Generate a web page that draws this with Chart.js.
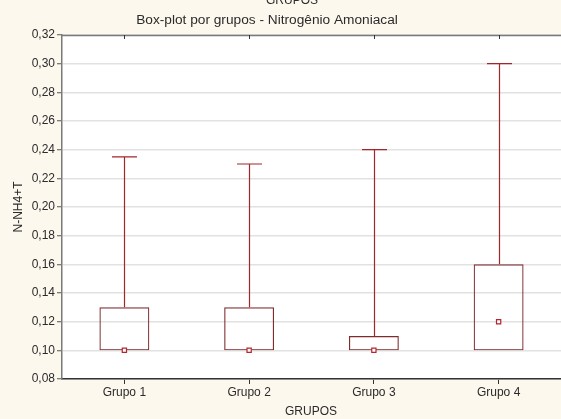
<!DOCTYPE html>
<html>
<head>
<meta charset="utf-8">
<title>Box-plot por grupos - Nitrogênio Amoniacal</title>
<script src="https://cdn.jsdelivr.net/npm/chart.js@4/dist/chart.umd.min.js"></script>
<style>
  html, body { margin: 0; padding: 0; background: #FDF8EE; }
  #wrap { width: 561px; height: 419px; position: relative; }
</style>
</head>
<body>
<div id="wrap"><canvas id="c" width="561" height="419"></canvas></div>
<script>
// Box-plot summary per group (N-NH4+T)
const categories = ['Grupo 1', 'Grupo 2', 'Grupo 3', 'Grupo 4'];
const mins    = [0.10, 0.10, 0.10, 0.10];
const q1      = [0.10, 0.10, 0.10, 0.10];
const q3      = [0.13, 0.13, 0.11, 0.16];
const maxs    = [0.235, 0.23, 0.24, 0.30];
const medians = [0.10, 0.10, 0.10, 0.12];
const yTicks  = [0.08, 0.10, 0.12, 0.14, 0.16, 0.18, 0.20, 0.22, 0.24, 0.26, 0.28, 0.30, 0.32];

const FONT = '"Liberation Sans", Arial, sans-serif';
const BOX_COLOR = '#7E2C2E';
const WHISKER_COLOR = '#A2262B';
const MEDIAN_COLOR = '#B3262C';
const TEXT_COLOR = '#2B2B2B';

// Whiskers, caps, frame and titles drawn over the chart
const boxExtras = {
  id: 'boxExtras',
  beforeDraw(chart) {
    const { ctx, chartArea: a } = chart;
    ctx.save();
    ctx.fillStyle = '#FDF8EE';
    ctx.fillRect(0, 0, chart.width, chart.height);
    ctx.fillStyle = '#FFFFFF';
    ctx.fillRect(a.left, a.top, a.right - a.left, a.bottom - a.top);
    ctx.restore();
  },
  afterDatasetsDraw(chart) {
    const { ctx, scales: { x, y } } = chart;
    const meta = chart.getDatasetMeta(0);
    ctx.save();
    ctx.strokeStyle = WHISKER_COLOR;
    ctx.lineWidth = 1.2;
    categories.forEach((c, i) => {
      const cx = Math.round(x.getPixelForValue(i)) + 0.5;
      const bar = meta.data[i];
      const half = bar.width / 4;
      const yTop = y.getPixelForValue(maxs[i]);
      const yQ3 = y.getPixelForValue(q3[i]);
      const yMin = y.getPixelForValue(mins[i]);
      const yQ1 = y.getPixelForValue(q1[i]);
      ctx.beginPath();
      ctx.moveTo(cx, yQ3); ctx.lineTo(cx, yTop);
      ctx.moveTo(cx - half, yTop); ctx.lineTo(cx + half, yTop);
      if (yMin > yQ1 + 0.5) {
        ctx.moveTo(cx, yQ1); ctx.lineTo(cx, yMin);
        ctx.moveTo(cx - half, yMin); ctx.lineTo(cx + half, yMin);
      }
      ctx.stroke();
    });
    ctx.restore();
  },
  afterDraw(chart) {
    const { ctx, chartArea: a, scales: { x } } = chart;
    ctx.save();
    // top frame with inward ticks
    ctx.strokeStyle = '#7A7A7A';
    ctx.lineWidth = 1.5;
    ctx.beginPath();
    ctx.moveTo(a.left, a.top + 0.5); ctx.lineTo(a.right, a.top + 0.5);
    ctx.stroke();
    ctx.lineWidth = 1;
    ctx.strokeStyle = '#333333';
    categories.forEach((c, i) => {
      const px = Math.round(x.getPixelForValue(i)) + 0.5;
      ctx.beginPath();
      ctx.moveTo(px, a.top); ctx.lineTo(px, a.top + 4);
      ctx.stroke();
    });
    // texts
    ctx.fillStyle = TEXT_COLOR;
    ctx.textAlign = 'center';
    ctx.textBaseline = 'alphabetic';
    ctx.font = '12px ' + FONT;
    ctx.fillText('GRUPOS', 292, 4);
    ctx.font = '13.7px ' + FONT;
    ctx.fillText('Box-plot por grupos - Nitrogênio Amoniacal', 267, 24);
    ctx.font = '12px ' + FONT;
    ctx.fillText('GRUPOS', 311, 415);
    ctx.translate(22, 207);
    ctx.rotate(-Math.PI / 2);
    ctx.fillText('N-NH4+T', 0, 0);
    ctx.restore();
  }
};

new Chart(document.getElementById('c'), {
  type: 'bar',
  data: {
    labels: categories,
    datasets: [
      {
        label: 'Caixa',
        data: q1.map((v, i) => [v, q3[i]]),
        backgroundColor: 'rgba(255,255,255,0)',
        borderColor: BOX_COLOR,
        borderWidth: 1.2,
        borderSkipped: false,
        barPercentage: 0.4,
        categoryPercentage: 1.0,
        order: 2
      },
      {
        type: 'line',
        label: 'Mediana',
        data: medians,
        showLine: false,
        pointStyle: 'rect',
        pointRadius: 3,
        pointBorderWidth: 1.2,
        pointBackgroundColor: '#FFFFFF',
        pointBorderColor: MEDIAN_COLOR,
        order: 1
      }
    ]
  },
  options: {
    responsive: false,
    animation: false,
    devicePixelRatio: 1,
    layout: { autoPadding: false, padding: { top: 35, left: 0, right: 0, bottom: 0 } },
    plugins: {
      legend: { display: false },
      tooltip: { enabled: false },
      title: { display: false }
    },
    scales: {
      x: {
        type: 'category',
        offset: true,
        grid: {
          offset: false,
          drawOnChartArea: false,
          drawTicks: true,
          tickLength: 5,
          color: '#333333'
        },
        border: { display: true, color: '#333333', width: 1.5 },
        ticks: {
          color: TEXT_COLOR,
          font: { family: FONT, size: 12 },
          padding: 1,
          maxRotation: 0
        },
        afterFit(scale) { scale.height = 40; }
      },
      y: {
        min: 0.08,
        max: 0.32,
        afterBuildTicks(scale) { scale.ticks = yTicks.map(v => ({ value: v })); },
        grid: {
          color: '#E2E2E2',
          lineWidth: 1.5,
          drawTicks: true,
          tickLength: 5,
          tickColor: '#555555',
          tickWidth: 1
        },
        border: { display: true, color: '#7A7A7A', width: 1.5 },
        ticks: {
          color: TEXT_COLOR,
          font: { family: FONT, size: 12 },
          padding: 2,
          callback: v => Number(v).toFixed(2).replace('.', ',')
        },
        afterFit(scale) { scale.width = 62; }
      }
    }
  },
  plugins: [boxExtras]
});
</script>
</body>
</html>
